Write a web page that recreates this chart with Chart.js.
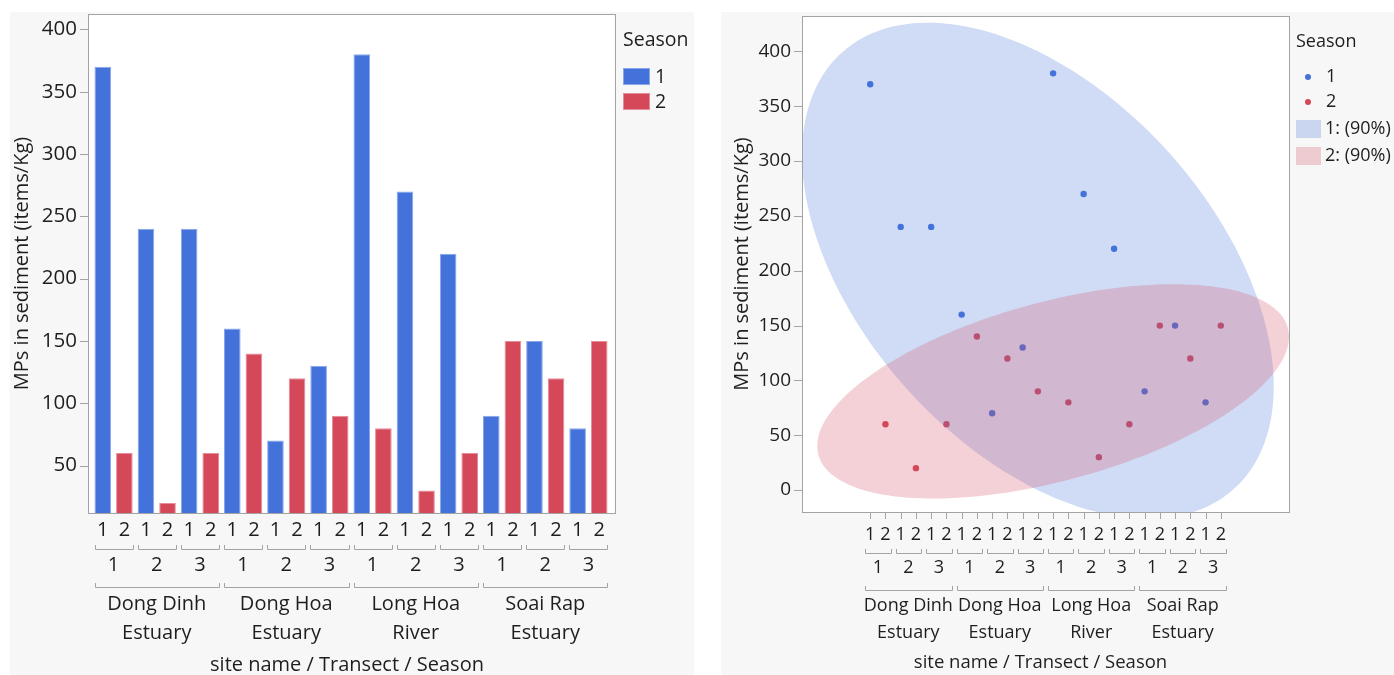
<!DOCTYPE html>
<html>
<head>
<meta charset="utf-8">
<script src="https://cdn.jsdelivr.net/npm/chart.js@4.4.0/dist/chart.umd.min.js"></script>
<style>
  body { margin: 0; background: #fff; width: 1394px; height: 675px; overflow: hidden; position: relative; }
  .panel { position: absolute; top: 12px; height: 663px; background: #f7f7f7; }
  #barPanel { left: 10px; width: 684px; }
  #dotPanel { left: 721px; width: 673px; }
  canvas { display: block; }
</style>
</head>
<body>
<div class="panel" id="barPanel"><canvas id="bars" width="684" height="663"></canvas></div>
<div class="panel" id="dotPanel"><canvas id="dots" width="673" height="663"></canvas></div>
<script>
const siteNames = [['Dong Dinh', 'Estuary'], ['Dong Hoa', 'Estuary'], ['Long Hoa', 'River'], ['Soai Rap', 'Estuary']];
const transects = ['1', '2', '3'];
const seasons = ['1', '2'];
// MPs in sediment, site by site, transects 1..3
const season1 = [370, 240, 240, 160, 70, 130, 380, 270, 220, 90, 150, 80];
const season2 = [60, 20, 60, 140, 120, 90, 80, 30, 60, 150, 120, 150];
const barTicks = [50, 100, 150, 200, 250, 300, 350, 400];
const dotTicks = [0, 50, 100, 150, 200, 250, 300, 350, 400];
const ellipseLevel = 0.90;

const axisTitle = 'site name / Transect / Season';
const yTitle = 'MPs in sediment (items/Kg)';
const seasonColors = ['#4472db', '#d4485a'];
const seasonEdges = ['#8aa6ea', '#e58d98'];
const ellipseFills = ['rgba(68,114,219,0.25)', 'rgba(212,72,90,0.25)'];
const textColor = '#1e1e1e';
const lineGray = '#a3a3a3';
const FONT = '"Open Sans", "Noto Sans", sans-serif';

// one slot per site / transect / season
const labels = [];
const seasonBars = [[], []];
const seasonPoints = [[], []];
siteNames.forEach((site, i) => {
    transects.forEach((t, j) => {
        seasons.forEach((s, k) => {
            const idx = labels.length;
            const v = [season1, season2][k][i * transects.length + j];
            labels.push(site.join(' ') + ' / ' + t + ' / ' + s);
            seasonBars[k].push(v);
            seasonBars[1 - k].push(null);
            seasonPoints[k].push({ x: idx, y: v });
        });
    });
});

// 90% bivariate normal density ellipse for each season
function densityEllipse(points) {
    const n = points.length;
    const mx = points.reduce((a, p) => a + p.x, 0) / n;
    const my = points.reduce((a, p) => a + p.y, 0) / n;
    let sxx = 0, syy = 0, sxy = 0;
    points.forEach(p => {
        sxx += (p.x - mx) * (p.x - mx);
        syy += (p.y - my) * (p.y - my);
        sxy += (p.x - mx) * (p.y - my);
    });
    sxx /= n - 1; syy /= n - 1; sxy /= n - 1;
    const k = Math.sqrt(-2 * Math.log(1 - ellipseLevel));
    const a = Math.sqrt(sxx);
    const b = sxy / a;
    const c = Math.sqrt(syy - b * b);
    const outline = [];
    for (let s = 0; s <= 180; s++) {
        const t = s / 180 * Math.PI * 2;
        outline.push({ x: mx + k * a * Math.cos(t), y: my + k * (b * Math.cos(t) + c * Math.sin(t)) });
    }
    return { outline, xLo: mx - k * a, xHi: mx + k * a };
}
const ellipses = seasonPoints.map(densityEllipse);
const dotXMin = Math.min(...ellipses.map(e => e.xLo));
const dotXMax = Math.max(...ellipses.map(e => e.xHi));

function noPad(s) {
    s.paddingTop = 0; s.paddingBottom = 0; s.paddingLeft = 0; s.paddingRight = 0;
}

function bracket(ctx, x0, x1, y) {
    ctx.beginPath();
    ctx.moveTo(Math.round(x0) + 0.5, y - 4);
    ctx.lineTo(Math.round(x0) + 0.5, y + 0.5);
    ctx.lineTo(Math.round(x1) + 0.5, y + 0.5);
    ctx.lineTo(Math.round(x1) + 0.5, y - 4);
    ctx.stroke();
}

// three rows of category labels under the plot
function drawNestedAxis(ctx, xAt, pitch, rows, sizes) {
    ctx.save();
    ctx.fillStyle = textColor;
    ctx.strokeStyle = lineGray;
    ctx.lineWidth = 1;
    ctx.textAlign = 'center';
    ctx.textBaseline = 'middle';
    const per = transects.length * seasons.length;
    siteNames.forEach((site, i) => {
        transects.forEach((t, j) => {
            const a = i * per + j * seasons.length;
            const b = a + seasons.length - 1;
            ctx.font = sizes.digit + 'px ' + FONT;
            seasons.forEach((s, k) => ctx.fillText(s, xAt(a + k), rows.season));
            bracket(ctx, xAt(a) - pitch / 2 + 2.5, xAt(b) + pitch / 2 - 2.5, rows.seasonBracket);
            ctx.fillText(t, (xAt(a) + xAt(b)) / 2, rows.transect);
        });
        const first = i * per, last = first + per - 1;
        bracket(ctx, xAt(first) - pitch / 2 + 2.5, xAt(last) + pitch / 2 - 2.5, rows.siteBracket);
        ctx.font = sizes.site + 'px ' + FONT;
        const mid = (xAt(first) + xAt(last)) / 2;
        ctx.fillText(site[0], mid, rows.site1);
        ctx.fillText(site[1], mid, rows.site2);
    });
    ctx.font = sizes.title + 'px ' + FONT;
    ctx.fillText(axisTitle, (xAt(0) + xAt(labels.length - 1)) / 2 + sizes.titleShift, rows.title);
    ctx.restore();
}

function yTickMarks(ctx, scale, ticks, x) {
    ctx.save();
    ctx.strokeStyle = lineGray;
    ctx.lineWidth = 1;
    ticks.forEach(v => {
        const y = Math.round(scale.getPixelForValue(v)) + 0.5;
        ctx.beginPath();
        ctx.moveTo(x - 8, y);
        ctx.lineTo(x, y);
        ctx.stroke();
    });
    ctx.restore();
}

function frameRect(ctx, l, t, r, b) {
    ctx.save();
    ctx.strokeStyle = lineGray;
    ctx.lineWidth = 1;
    ctx.strokeRect(Math.round(l) + 0.5, Math.round(t) + 0.5, Math.round(r - l), Math.round(b - t));
    ctx.restore();
}

// ---------- bar chart ----------
const barFrame = {
    id: 'barFrame',
    beforeDraw(chart) {
        const { ctx, chartArea: ca } = chart;
        ctx.save();
        ctx.fillStyle = '#fff';
        ctx.fillRect(ca.left - 4, ca.top, ca.right - ca.left + 8.5, ca.bottom - ca.top);
        ctx.restore();
    },
    afterDraw(chart) {
        const { ctx, chartArea: ca } = chart;
        const x = chart.scales.x;
        frameRect(ctx, ca.left - 4, ca.top, ca.right + 4.5, ca.bottom);
        yTickMarks(ctx, chart.scales.y, barTicks, ca.left - 4);
        const pitch = (ca.right - ca.left) / labels.length;
        drawNestedAxis(ctx, i => x.getPixelForValue(i), pitch,
            { season: 518, seasonBracket: 537, transect: 553, siteBracket: 575, site1: 592, site2: 621, title: 653 },
            { digit: 20, site: 20, title: 20, titleShift: -4 });

        // legend
        ctx.save();
        ctx.fillStyle = textColor;
        ctx.textBaseline = 'middle';
        ctx.textAlign = 'left';
        ctx.font = '19.5px ' + FONT;
        ctx.fillText('Season', 613, 28);
        seasons.forEach((s, k) => {
            const top = 56 + k * 25;
            ctx.fillStyle = seasonColors[k];
            ctx.fillRect(613, top, 27, 17);
            ctx.strokeStyle = seasonEdges[k];
            ctx.strokeRect(613.5, top + 0.5, 26, 16);
            ctx.fillStyle = textColor;
            ctx.fillText(s, 645, top + 9);
        });
        ctx.restore();
    }
};

new Chart(document.getElementById('bars'), {
    type: 'bar',
    data: {
        labels: labels,
        datasets: seasons.map((s, k) => ({
            label: s,
            data: seasonBars[k],
            backgroundColor: seasonColors[k],
            borderColor: seasonEdges[k],
            borderWidth: 1,
            skipNull: true,
            barPercentage: 0.77,
            categoryPercentage: 1
        }))
    },
    options: {
        responsive: false,
        animation: false,
        layout: { padding: { top: 2, right: 84, left: 0, bottom: 0 } },
        plugins: { legend: { display: false }, tooltip: { enabled: false } },
        scales: {
            x: {
                ticks: { display: false },
                grid: { display: false, drawTicks: false },
                border: { display: false },
                afterFit: s => { s.height = 162; noPad(s); }
            },
            y: {
                min: 11.9,
                max: 412.4,
                afterBuildTicks: s => { s.ticks = barTicks.map(v => ({ value: v })); },
                afterFit: s => { s.width = 82; noPad(s); },
                grid: { display: false, drawTicks: false },
                border: { display: false },
                ticks: { color: textColor, padding: 15, font: { family: FONT, size: 20.5 } },
                title: { display: true, text: yTitle, color: textColor, padding: 0, font: { family: FONT, size: 20 } }
            }
        }
    },
    plugins: [barFrame]
});

// ---------- scatter with density ellipses ----------
const dotFrame = {
    id: 'dotFrame',
    beforeDraw(chart) {
        const { ctx, chartArea: ca } = chart;
        ctx.save();
        ctx.fillStyle = '#fff';
        ctx.fillRect(ca.left, ca.top, ca.right - ca.left, ca.bottom - ca.top);
        ctx.restore();
    },
    afterDatasetsDraw(chart) {
        const { ctx, chartArea: ca, scales: { x, y } } = chart;
        ctx.save();
        ctx.beginPath();
        ctx.rect(ca.left, ca.top, ca.right - ca.left, ca.bottom - ca.top);
        ctx.clip();
        ellipses.forEach((e, k) => {
            ctx.beginPath();
            e.outline.forEach((p, i) => {
                const px = x.getPixelForValue(p.x), py = y.getPixelForValue(p.y);
                if (i === 0) ctx.moveTo(px, py); else ctx.lineTo(px, py);
            });
            ctx.closePath();
            ctx.fillStyle = ellipseFills[k];
            ctx.fill();
        });
        ctx.restore();
    },
    afterDraw(chart) {
        const { ctx, chartArea: ca, scales: { x, y } } = chart;
        frameRect(ctx, ca.left, ca.top, ca.right, ca.bottom);
        yTickMarks(ctx, y, dotTicks, ca.left);
        ctx.save();
        ctx.strokeStyle = lineGray;
        labels.forEach((l, i) => {
            const px = Math.round(x.getPixelForValue(i)) + 0.5;
            ctx.beginPath();
            ctx.moveTo(px, ca.bottom);
            ctx.lineTo(px, ca.bottom + 7);
            ctx.stroke();
        });
        ctx.restore();
        const pitch = x.getPixelForValue(1) - x.getPixelForValue(0);
        drawNestedAxis(ctx, i => x.getPixelForValue(i), pitch,
            { season: 523, seasonBracket: 541, transect: 556, siteBracket: 578, site1: 594, site2: 621, title: 651 },
            { digit: 18, site: 18, title: 18.5, titleShift: -5 });

        // legend
        ctx.save();
        ctx.textBaseline = 'middle';
        ctx.textAlign = 'left';
        ctx.font = '18px ' + FONT;
        ctx.fillStyle = textColor;
        ctx.fillText('Season', 575, 30);
        seasons.forEach((s, k) => {
            const cy = 65 + k * 25;
            ctx.fillStyle = seasonColors[k];
            ctx.beginPath();
            ctx.arc(587, cy, 3, 0, Math.PI * 2);
            ctx.fill();
            ctx.fillStyle = textColor;
            ctx.fillText(s, 605, cy);
        });
        seasons.forEach((s, k) => {
            const top = 108 + k * 27;
            ctx.fillStyle = ellipseFills[k];
            ctx.fillRect(575, top, 25, 18);
            ctx.fillStyle = textColor;
            ctx.fillText(s + ': (' + Math.round(ellipseLevel * 100) + '%)', 604, top + 9);
        });
        ctx.restore();
    }
};

new Chart(document.getElementById('dots'), {
    type: 'scatter',
    data: {
        datasets: seasons.map((s, k) => ({
            label: s,
            data: seasonPoints[k],
            backgroundColor: seasonColors[k],
            borderWidth: 0,
            pointRadius: 3.2
        }))
    },
    options: {
        responsive: false,
        animation: false,
        layout: { padding: { top: 3, right: 105, left: 0, bottom: 0 } },
        plugins: { legend: { display: false }, tooltip: { enabled: false } },
        scales: {
            x: {
                type: 'linear',
                min: dotXMin,
                max: dotXMax,
                ticks: { display: false },
                grid: { display: false, drawTicks: false },
                border: { display: false },
                afterFit: s => { s.height = 163; noPad(s); }
            },
            y: {
                min: -20,
                max: 432.3,
                afterBuildTicks: s => { s.ticks = dotTicks.map(v => ({ value: v })); },
                afterFit: s => { s.width = 81; noPad(s); },
                grid: { display: false, drawTicks: false },
                border: { display: false },
                ticks: { color: textColor, padding: 11, font: { family: FONT, size: 19 } },
                title: { display: true, text: yTitle, color: textColor, padding: { top: 9, bottom: 0 }, font: { family: FONT, size: 20 } }
            }
        }
    },
    plugins: [dotFrame]
});
</script>
</body>
</html>
